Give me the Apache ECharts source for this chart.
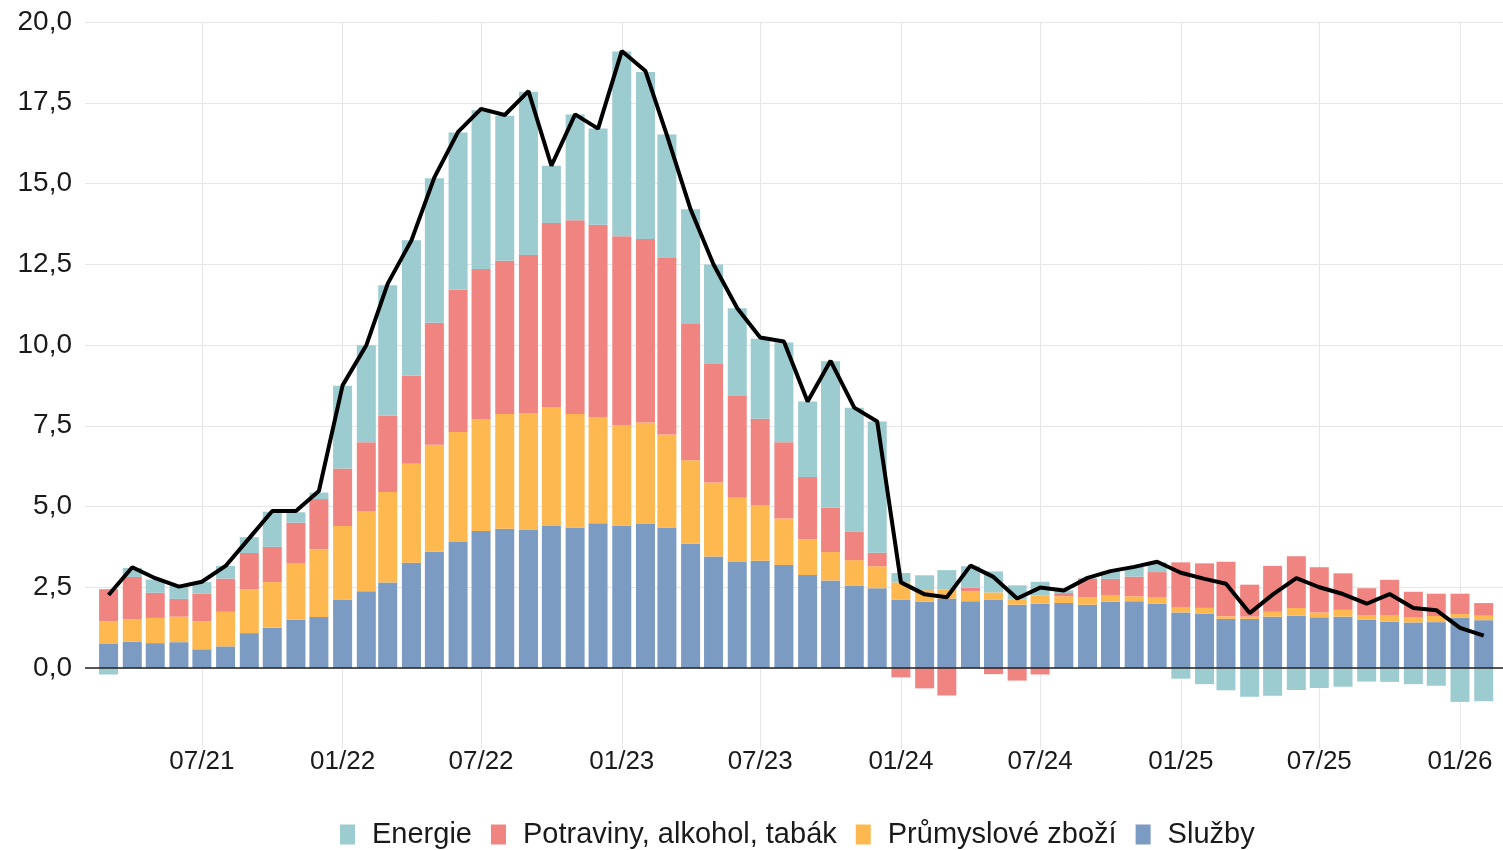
<!DOCTYPE html>
<html>
<head>
<meta charset="utf-8">
<script src="https://cdn.jsdelivr.net/npm/echarts@6/dist/echarts.min.js"></script>
<style>
  html, body { margin: 0; padding: 0; background: #fff; }
  #chart { width: 1503px; height: 850px; }
</style>
</head>
<body>
<div id="chart"></div>
<script>
const months = [
  '03/21', '04/21', '05/21', '06/21', '07/21', '08/21', '09/21', '10/21', '11/21', '12/21',
  '01/22', '02/22', '03/22', '04/22', '05/22', '06/22', '07/22', '08/22', '09/22', '10/22', '11/22', '12/22',
  '01/23', '02/23', '03/23', '04/23', '05/23', '06/23', '07/23', '08/23', '09/23', '10/23', '11/23', '12/23',
  '01/24', '02/24', '03/24', '04/24', '05/24', '06/24', '07/24', '08/24', '09/24', '10/24', '11/24', '12/24',
  '01/25', '02/25', '03/25', '04/25', '05/25', '06/25', '07/25', '08/25', '09/25', '10/25', '11/25', '12/25',
  '01/26', '02/26'
]
const tickMonths = ['07/21', '01/22', '07/22', '01/23', '07/23', '01/24', '07/24', '01/25', '07/25', '01/26']

// contributions, p.b.
const sluzby = [
  0.76, 0.81, 0.77, 0.80, 0.58, 0.67, 1.08, 1.25, 1.50, 1.58,
  2.12, 2.38, 2.65, 3.26, 3.60, 3.90, 4.24, 4.31, 4.29, 4.40,
  4.35, 4.48, 4.41, 4.46, 4.35, 3.85, 3.45, 3.30, 3.32, 3.19,
  2.88, 2.71, 2.54, 2.47, 2.11, 2.05, 2.15, 2.07, 2.11, 1.96,
  1.99, 2.01, 1.96, 2.05, 2.07, 1.99, 1.72, 1.69, 1.52, 1.52,
  1.59, 1.62, 1.57, 1.59, 1.49, 1.43, 1.41, 1.42, 1.56, 1.48
]
const prumysl = [
  0.69, 0.70, 0.78, 0.79, 0.87, 1.07, 1.36, 1.41, 1.73, 2.10,
  2.28, 2.48, 2.80, 3.06, 3.31, 3.41, 3.45, 3.55, 3.59, 3.68,
  3.51, 3.29, 3.10, 3.14, 2.88, 2.58, 2.29, 1.97, 1.71, 1.44,
  1.11, 0.88, 0.80, 0.68, 0.54, 0.36, 0.29, 0.30, 0.23, 0.17,
  0.25, 0.21, 0.23, 0.21, 0.15, 0.19, 0.15, 0.17, 0.08, 0.07,
  0.15, 0.24, 0.15, 0.21, 0.15, 0.21, 0.15, 0.19, 0.11, 0.14
]
const potraviny = [
  0.99, 1.31, 0.78, 0.55, 0.85, 1.03, 1.12, 1.09, 1.27, 1.55,
  1.78, 2.13, 2.37, 2.73, 3.78, 4.41, 4.66, 4.75, 4.91, 5.70,
  6.00, 5.95, 5.86, 5.68, 5.46, 4.24, 3.67, 3.15, 2.69, 2.36,
  1.92, 1.38, 0.89, 0.42, -0.29, -0.63, -0.85, 0.12, -0.19, -0.39,
  -0.20, 0.10, 0.58, 0.50, 0.61, 0.79, 1.40, 1.38, 1.69, 0.99,
  1.42, 1.60, 1.40, 1.13, 0.83, 1.09, 0.80, 0.69, 0.63, 0.39
]
const energie = [
  -0.20, 0.28, 0.41, 0.40, 0.36, 0.39, 0.49, 1.09, 0.32, 0.20,
  2.56, 3.00, 4.03, 4.19, 4.47, 4.86, 4.92, 4.49, 5.05, 1.77,
  3.28, 2.98, 5.72, 5.17, 3.83, 3.53, 3.08, 2.72, 2.47, 3.09,
  2.34, 4.53, 3.83, 4.06, 0.29, 0.46, 0.59, 0.66, 0.65, 0.43,
  0.43, 0.08, 0.02, 0.24, 0.30, 0.30, -0.33, -0.50, -0.69, -0.89,
  -0.86, -0.68, -0.62, -0.58, -0.42, -0.43, -0.50, -0.55, -1.05, -1.03
]
// headline inflation, %
const celkem = [
  2.26, 3.12, 2.78, 2.52, 2.67, 3.16, 4.02, 4.86, 4.86, 5.48,
  8.75, 9.99, 11.90, 13.24, 15.19, 16.60, 17.31, 17.12, 17.86, 15.55,
  17.14, 16.70, 19.10, 18.48, 16.50, 14.20, 12.49, 11.14, 10.23, 10.11,
  8.25, 9.51, 8.06, 7.63, 2.65, 2.28, 2.19, 3.17, 2.82, 2.15,
  2.49, 2.40, 2.79, 3.00, 3.13, 3.29, 2.95, 2.76, 2.61, 1.70,
  2.27, 2.78, 2.50, 2.29, 1.99, 2.29, 1.86, 1.79, 1.24, 1.00
]

const font = "'Liberation Sans', Arial, Helvetica, sans-serif"
const textColor = '#1a1a1a'
const gridColor = '#e6e6e6'
const DAY = 24 * 3600 * 1000

const chart = echarts.init(document.getElementById('chart'))

// '07/21' -> timestamp of 2021-07-01 (UTC)
const toTime = m => Date.UTC(2000 + Number(m.slice(3)), Number(m.slice(0, 2)) - 1, 1)
const times = months.map(toTime)
const toPairs = arr => arr.map((v, i) => [times[i], v])
const tickTimes = tickMonths.map(toTime)
const labelOf = t => (tickTimes.indexOf(t) >= 0 ? months[times.indexOf(t)] : '')

const barSeries = (name, data, color) => ({
  name,
  type: 'bar',
  stack: 'infl',
  data: toPairs(data),
  barWidth: 19,
  itemStyle: { color },
  emphasis: { disabled: true }
})

chart.setOption({
  animation: false,
  useUTC: true,
  textStyle: { fontFamily: font },
  grid: {
    left: 85,
    right: 0,
    top: 22,
    bottom: 101.25,
    outerBoundsMode: 'none'
  },
  legend: {
    data: ['Energie', 'Potraviny, alkohol, tabák', 'Průmyslové zboží', 'Služby'],
    left: 335,
    top: 815,
    icon: 'rect',
    itemWidth: 15,
    itemHeight: 20,
    itemGap: 19,
    selectedMode: false,
    textStyle: {
      fontFamily: font,
      fontSize: 29,
      color: textColor,
      padding: [0, 0, 0, 12]
    }
  },
  xAxis: {
    type: 'time',
    // the bars widen the extent by half a bar on each side
    min: times[0] - 18.4 * DAY,
    max: times[times.length - 1] + 12.8 * DAY,
    minInterval: 181 * DAY,
    maxInterval: 184 * DAY,
    axisLine: { show: false },
    axisTick: { show: false },
    axisLabel: {
      formatter: v => labelOf(v),
      fontFamily: font,
      fontSize: 26,
      color: textColor,
      margin: 0,
      hideOverlap: false
    },
    splitLine: {
      show: true,
      showMinLine: false,
      showMaxLine: false,
      lineStyle: { color: gridColor, width: 1 }
    }
  },
  yAxis: {
    type: 'value',
    min: -2.5,
    max: 20,
    interval: 2.5,
    axisLine: { show: false },
    axisTick: { show: false },
    axisLabel: {
      formatter: v => (v < 0 ? '' : v.toFixed(1).replace('.', ',')),
      fontFamily: font,
      fontSize: 28,
      color: textColor,
      margin: 13
    },
    splitLine: { show: true, showMinLine: false, lineStyle: { color: gridColor, width: 1 } }
  },
  series: [
    barSeries('Služby', sluzby, '#7b9bc3'),
    barSeries('Průmyslové zboží', prumysl, '#feb850'),
    barSeries('Potraviny, alkohol, tabák', potraviny, '#f08481'),
    barSeries('Energie', energie, '#9ccbd0'),
    {
      name: 'Celkem',
      type: 'line',
      data: toPairs(celkem),
      symbol: 'none',
      z: 10,
      lineStyle: { color: '#000', width: 4 },
      emphasis: { disabled: true },
      markLine: {
        silent: true,
        symbol: ['none', 'none'],
        label: { show: false },
        lineStyle: { color: '#222', width: 1.5, type: 'solid' },
        data: [{ yAxis: 0 }]
      }
    }
  ]
})

window.addEventListener('resize', () => chart.resize())
</script>
</body>
</html>
